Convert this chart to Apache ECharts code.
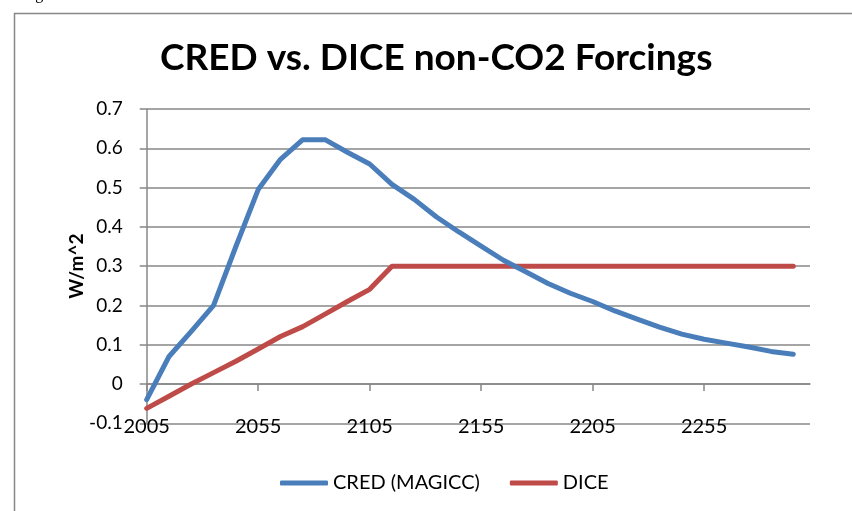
<!DOCTYPE html>
<html>
<head>
<meta charset="utf-8">
<script src="https://cdn.jsdelivr.net/npm/echarts@6/dist/echarts.min.js"></script>
<style>html,body{margin:0;padding:0;background:#fff;}#c{width:852px;height:511px;}</style>
</head>
<body>
<div id="c"></div>
<script>
const years = [2005,2015,2025,2035,2045,2055,2065,2075,2085,2095,2105,2115,2125,2135,2145,2155,2165,2175,2185,2195,2205,2215,2225,2235,2245,2255,2265,2275,2285,2295];
const cred = [-0.040,0.070,0.134,0.200,0.350,0.495,0.572,0.622,0.622,0.590,0.560,0.508,0.470,0.425,0.387,0.351,0.315,0.286,0.256,0.231,0.210,0.186,0.165,0.145,0.127,0.114,0.104,0.094,0.083,0.076];
const dice = [-0.062,-0.031,0.000,0.029,0.058,0.089,0.121,0.146,0.178,0.210,0.241,0.300,0.300,0.300,0.300,0.300,0.300,0.300,0.300,0.300,0.300,0.300,0.300,0.300,0.300,0.300,0.300,0.300,0.300,0.300];
const seriesNames = ['CRED (MAGICC)','DICE'];
const titleText = 'CRED vs. DICE non-CO2 Forcings';
const yName = 'W/m^2';

const chart = echarts.init(document.getElementById('c'), null, {renderer:'canvas'});
const font = 'Lato';
const gray = '#878787';
chart.setOption({
  backgroundColor:'#fff',
  animation:false,
  textStyle:{fontFamily:font},
  graphic:[
    {type:'rect', left:12, top:11, shape:{x:0,y:0,width:880,height:540}, style:{fill:'none', stroke:gray, lineWidth:1.5}, silent:true},
    {type:'text', left:22, top:-13, style:{text:'Figure', font:'16px "Liberation Serif"', fill:'#000'}}
  ],
  title:{text:titleText, left:155, top:35, textStyle:{fontFamily:font, fontWeight:'bold', fontSize:37, color:'#000'}},
  legend:{left:275, top:468, itemWidth:48, itemHeight:5, itemGap:30, icon:'roundRect',
    textStyle:{fontFamily:font, fontSize:20, color:'#000'}, data:seriesNames},
  grid:{left:146.7, top:109, right:42, bottom:87.7, containLabel:false},
  xAxis:{type:'value', min:2005, max:2302.5, interval:50,
    axisLine:{onZero:true, lineStyle:{color:gray, width:1.5}},
    axisTick:{show:true, length:7, lineStyle:{color:gray, width:1.5}},
    axisLabel:{margin:-7, fontSize:20, color:'#000', fontFamily:font, showMaxLabel:false, formatter:v=>String(v)},
    splitLine:{show:false}},
  yAxis:{type:'value', min:-0.1, max:0.7, interval:0.1,
    name:yName, nameLocation:'middle', nameGap:60, nameRotate:90, nameMoveOverlap:false,
    nameTextStyle:{fontFamily:font, fontWeight:'bold', fontSize:19, color:'#000'},
    axisLine:{show:true, lineStyle:{color:gray, width:1.5}},
    axisTick:{show:true, length:7, lineStyle:{color:gray, width:1.5}},
    axisLabel:{margin:24, fontSize:19, color:'#000', fontFamily:font,
      formatter:v=>String(Math.round(v*10)/10)},
    splitLine:{show:true, lineStyle:{color:gray, width:1.5}}},
  series:[
    {name:seriesNames[0], type:'line', data:years.map((y,i)=>[y,cred[i]]), showSymbol:false, symbol:'none',
      lineStyle:{color:'#4A7EBB', width:5, cap:'round', join:'round'}, itemStyle:{color:'#4A7EBB'}, z:3},
    {name:seriesNames[1], type:'line', data:years.map((y,i)=>[y,dice[i]]), showSymbol:false, symbol:'none',
      lineStyle:{color:'#BE4B48', width:5, cap:'round', join:'round'}, itemStyle:{color:'#BE4B48'}, z:2}
  ]
});
</script>
</body>
</html>
